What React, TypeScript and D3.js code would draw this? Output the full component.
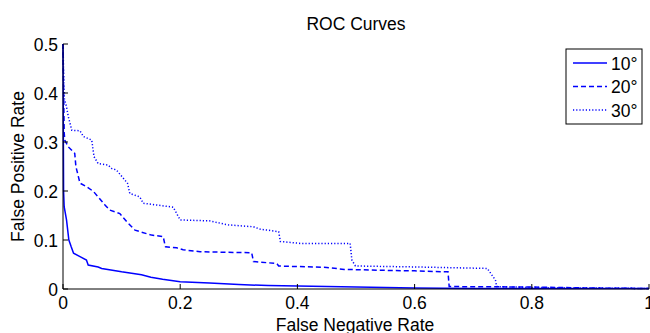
import React from "react"
import * as d3 from "d3"

const seriesNames = ["10°", "20°", "30°"]
const dashes = ["none", "5,3", "1.2,2"]

// [false negative rate, false positive rate]
const roc10: [number, number][] = [
  [0, 0.5], [0.001, 0.2], [0.002, 0.168], [0.006, 0.141], [0.01, 0.1], [0.014, 0.086],
  [0.018, 0.073], [0.029, 0.066], [0.04, 0.059], [0.043, 0.049], [0.06, 0.045],
  [0.066, 0.042], [0.1, 0.035], [0.134, 0.029], [0.15, 0.024], [0.17, 0.02],
  [0.2, 0.015], [0.25, 0.012], [0.3, 0.009], [0.35, 0.007], [0.4, 0.006],
  [0.5, 0.004], [0.6, 0.002], [0.7, 0.001], [1, 0.001],
]
const roc20: [number, number][] = [
  [0, 0.5], [0.002, 0.32], [0.003, 0.304], [0.009, 0.29], [0.02, 0.277], [0.022, 0.25],
  [0.029, 0.216], [0.04, 0.209], [0.052, 0.199], [0.06, 0.188], [0.072, 0.171],
  [0.08, 0.161], [0.097, 0.154], [0.109, 0.137], [0.123, 0.12], [0.151, 0.11],
  [0.171, 0.107], [0.174, 0.09], [0.175, 0.086], [0.194, 0.084], [0.205, 0.08],
  [0.234, 0.076], [0.322, 0.074], [0.325, 0.056], [0.365, 0.052], [0.368, 0.047],
  [0.45, 0.044], [0.48, 0.04], [0.55, 0.038], [0.6, 0.037], [0.657, 0.035],
  [0.659, 0.005], [0.8, 0.004], [0.9, 0.002], [1, 0.001],
]
const roc30: [number, number][] = [
  [0, 0.5], [0.002, 0.39], [0.006, 0.372], [0.009, 0.352], [0.015, 0.324], [0.029, 0.323],
  [0.035, 0.311], [0.049, 0.304], [0.053, 0.27], [0.06, 0.256], [0.077, 0.253],
  [0.083, 0.246], [0.091, 0.243], [0.11, 0.216], [0.114, 0.195], [0.131, 0.188],
  [0.137, 0.175], [0.188, 0.167], [0.2, 0.141], [0.251, 0.139], [0.28, 0.131],
  [0.325, 0.127], [0.337, 0.122], [0.368, 0.117], [0.371, 0.097], [0.388, 0.095],
  [0.405, 0.093], [0.49, 0.093], [0.493, 0.059], [0.499, 0.047], [0.6, 0.045],
  [0.724, 0.042], [0.738, 0.018], [0.74, 0.005], [0.8, 0.003], [1, 0.001],
]
const allSeries = [roc10, roc20, roc30]

const xTicks = [0, 0.2, 0.4, 0.6, 0.8, 1]
const yTicks = [0, 0.1, 0.2, 0.3, 0.4, 0.5]

const W = 650
const H = 333
const M = { top: 44, right: 1, bottom: 44, left: 63 }
const FONT = "'Liberation Sans', Arial, sans-serif"
const FS = 17.5

export default function App() {
  const x = d3.scaleLinear().domain([0, 1]).range([M.left, W - M.right])
  const y = d3.scaleLinear().domain([0, 0.5]).range([H - M.bottom, M.top])
  const line = d3
    .line<[number, number]>()
    .x((d) => x(d[0]))
    .y((d) => y(d[1]))

  const lg = { x: 566, y: 49, w: 76, h: 75 }

  return (
    <svg
      width={W}
      height={H}
      style={{ position: "absolute", left: 0, top: 0, background: "#fff" }}
      fontFamily={FONT}
    >
      <text x={356} y={30} fontSize={FS} textAnchor="middle" fill="#000">
        ROC Curves
      </text>

      {allSeries.map((s, i) => (
        <path
          key={i}
          d={line(s) ?? ""}
          fill="none"
          stroke="#0000ff"
          strokeWidth={1.5}
          strokeDasharray={dashes[i]}
        />
      ))}

      {/* axes */}
      <line x1={x(0)} x2={x(1)} y1={y(0)} y2={y(0)} stroke="#000" />
      <line x1={x(0)} x2={x(0)} y1={y(0)} y2={y(0.5)} stroke="#000" />
      {xTicks.map((t) => (
        <g key={"x" + t}>
          <line x1={x(t)} x2={x(t)} y1={y(0)} y2={y(0) - 5} stroke="#000" />
          <text x={x(t)} y={y(0) + 20} fontSize={FS} textAnchor="middle" fill="#000">
            {t}
          </text>
        </g>
      ))}
      {yTicks.map((t) => (
        <g key={"y" + t}>
          <line x1={x(0)} x2={x(0) + 5} y1={y(t)} y2={y(t)} stroke="#000" />
          <text x={x(0) - 5} y={y(t) + 6.5} fontSize={FS} textAnchor="end" fill="#000">
            {t}
          </text>
        </g>
      ))}
      <text x={355} y={331} fontSize={FS} textAnchor="middle" fill="#000">
        False Negative Rate
      </text>
      <text
        transform={`translate(24,${y(0.25)}) rotate(-90)`}
        fontSize={FS}
        textAnchor="middle"
        fill="#000"
      >
        False Positive Rate
      </text>

      {/* legend */}
      <rect x={lg.x} y={lg.y} width={lg.w} height={lg.h} fill="#fff" stroke="#000" />
      {seriesNames.map((n, i) => {
        const cy = lg.y + 14 + i * 23.5
        return (
          <g key={n}>
            <line
              x1={lg.x + 7}
              x2={lg.x + 41}
              y1={cy}
              y2={cy}
              stroke="#0000ff"
              strokeWidth={1.5}
              strokeDasharray={dashes[i]}
            />
            <text x={lg.x + 45} y={cy + 6.5} fontSize={FS} fill="#000">
              {n}
            </text>
          </g>
        )
      })}
    </svg>
  )
}
